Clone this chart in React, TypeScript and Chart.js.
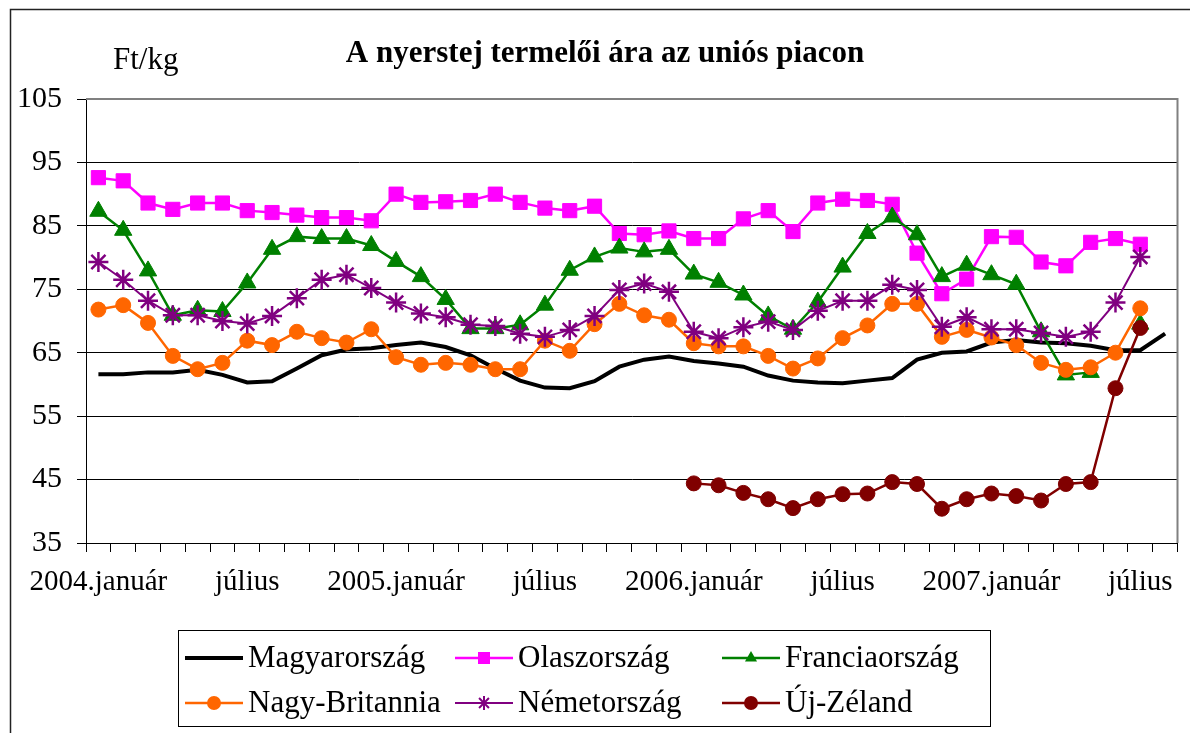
import React, { useEffect, useRef } from 'react';
import { Chart, registerables } from 'chart.js';

Chart.register(...registerables);

const FONT = "'Liberation Serif', 'Times New Roman', serif";

const categories: string[] = [
  '2004.január', 'február', 'március', 'április', 'május', 'június', 'július', 'augusztus', 'szeptember', 'október', 'november', 'december',
  '2005.január', 'február', 'március', 'április', 'május', 'június', 'július', 'augusztus', 'szeptember', 'október', 'november', 'december',
  '2006.január', 'február', 'március', 'április', 'május', 'június', 'július', 'augusztus', 'szeptember', 'október', 'november', 'december',
  '2007.január', 'február', 'március', 'április', 'május', 'június', 'július', 'augusztus',
];

const magyarorszag = [61.6, 61.6, 61.9, 61.9, 62.3, 61.5, 60.3, 60.5, 62.5, 64.6, 65.5, 65.7, 66.2, 66.6, 65.9, 64.6, 62.5, 60.6, 59.5, 59.4, 60.5, 62.8, 63.9, 64.4, 63.7, 63.3, 62.8, 61.4, 60.6, 60.3, 60.2, 60.6, 61.0, 63.9, 65.0, 65.2, 66.6, 67.0, 66.6, 66.5, 66.1, 65.4, 65.4, 68.0];
const olaszorszag = [92.6, 92.1, 88.6, 87.6, 88.6, 88.6, 87.4, 87.1, 86.7, 86.3, 86.3, 85.8, 90.0, 88.7, 88.8, 89.0, 90.0, 88.7, 87.8, 87.4, 88.1, 83.8, 83.6, 84.2, 83.0, 83.0, 86.1, 87.4, 84.1, 88.6, 89.2, 89.0, 88.4, 80.7, 74.3, 76.6, 83.3, 83.2, 79.3, 78.7, 82.4, 83.0, 82.1, null];
const franciaorszag = [87.3, 84.3, 77.9, 70.9, 71.7, 71.5, 76.0, 81.3, 83.3, 83.0, 83.0, 81.9, 79.4, 77.0, 73.4, 68.8, 68.8, 69.4, 72.5, 78.0, 80.1, 81.5, 80.9, 81.3, 77.4, 76.1, 74.1, 70.8, 68.7, 73.0, 78.5, 83.8, 86.4, 83.6, 77.0, 78.8, 77.3, 75.8, 68.3, 61.5, 61.9, null, 69.5, null];
const nagyBritannia = [71.8, 72.5, 69.7, 64.5, 62.4, 63.4, 66.9, 66.2, 68.3, 67.3, 66.6, 68.7, 64.3, 63.1, 63.4, 63.1, 62.4, 62.4, 66.9, 65.3, 69.5, 72.7, 70.9, 70.2, 66.5, 66.0, 66.0, 64.5, 62.5, 64.1, 67.3, 69.3, 72.7, 72.7, 67.5, 68.6, 67.4, 66.2, 63.4, 62.3, 62.7, 65.0, 72.0, null];
const nemetorszag = [79.3, 76.5, 73.2, 70.9, 70.9, 70.0, 69.6, 70.8, 73.6, 76.5, 77.3, 75.2, 72.9, 71.2, 70.6, 69.4, 69.2, 68.0, 67.5, 68.6, 70.8, 74.9, 75.9, 74.6, 68.3, 67.3, 69.0, 69.9, 68.6, 71.6, 73.2, 73.2, 75.7, 74.9, 69.1, 70.6, 68.7, 68.7, 68.1, 67.5, 68.3, 72.9, 80.1, null];
const ujZeland = [null, null, null, null, null, null, null, null, null, null, null, null, null, null, null, null, null, null, null, null, null, null, null, null, 44.4, 44.1, 42.9, 41.9, 40.5, 41.9, 42.7, 42.8, 44.6, 44.3, 40.4, 41.9, 42.8, 42.4, 41.7, 44.3, 44.6, 59.4, 68.9, null];

const yTicks = { min: 35, max: 105, step: 10 };
const titleText = 'A nyerstej termelői ára az uniós piacon';
const unitText = 'Ft/kg';

function drawMarker(ctx: CanvasRenderingContext2D, style: string, x: number, y: number, r: number, color: string) {
  ctx.save();
  ctx.fillStyle = color;
  ctx.strokeStyle = color;
  ctx.beginPath();
  if (style === 'rect') {
    ctx.rect(x - r, y - r, 2 * r, 2 * r);
    ctx.fill();
  } else if (style === 'triangle') {
    ctx.moveTo(x, y - r);
    ctx.lineTo(x + r * 0.866, y + r * 0.5);
    ctx.lineTo(x - r * 0.866, y + r * 0.5);
    ctx.closePath();
    ctx.fill();
  } else if (style === 'circle') {
    ctx.arc(x, y, r, 0, Math.PI * 2);
    ctx.fill();
  } else if (style === 'star') {
    ctx.lineWidth = 2;
    ctx.moveTo(x, y - r); ctx.lineTo(x, y + r);
    ctx.moveTo(x - r * 0.707, y - r * 0.707); ctx.lineTo(x + r * 0.707, y + r * 0.707);
    ctx.moveTo(x - r * 0.707, y + r * 0.707); ctx.lineTo(x + r * 0.707, y - r * 0.707);
    ctx.moveTo(x - r, y); ctx.lineTo(x + r, y);
    ctx.stroke();
  }
  ctx.restore();
}

const decorPlugin = {
  id: 'decor',
  beforeDatasetsDraw(chart: any) {
    const { ctx, chartArea: a } = chart;
    ctx.save();
    ctx.strokeStyle = '#808080';
    ctx.lineWidth = 2;
    ctx.beginPath();
    ctx.moveTo(a.left, a.top);
    ctx.lineTo(a.right, a.top);
    ctx.lineTo(a.right, a.bottom);
    ctx.stroke();
    ctx.restore();
  },
  afterDraw(chart: any) {
    const { ctx } = chart;
    ctx.save();
    ctx.strokeStyle = '#222';
    ctx.lineWidth = 1.5;
    ctx.beginPath();
    ctx.moveTo(10.5, 740);
    ctx.lineTo(10.5, 9.5);
    ctx.lineTo(1200, 9.5);
    ctx.stroke();
    ctx.fillStyle = '#000';
    ctx.textBaseline = 'alphabetic';
    ctx.textAlign = 'center';
    ctx.font = `bold 31px ${FONT}`;
    ctx.fillText(titleText, 605, 62);
    ctx.textAlign = 'left';
    ctx.font = `31px ${FONT}`;
    ctx.fillText(unitText, 113, 69);
    ctx.strokeStyle = '#000';
    ctx.lineWidth = 1;
    ctx.strokeRect(178.5, 630.5, 812, 96);
    const cols = [185, 455, 722];
    const rows = [658, 703];
    const ds = chart.data.datasets;
    ds.forEach((d: any, i: number) => {
      const cx = cols[i % 3];
      const cy = rows[Math.floor(i / 3)];
      ctx.strokeStyle = d.borderColor;
      ctx.lineWidth = d.borderWidth;
      ctx.beginPath();
      ctx.moveTo(cx, cy);
      ctx.lineTo(cx + 58, cy);
      ctx.stroke();
      if (d.pointRadius > 0) {
        drawMarker(ctx, d.pointStyle, cx + 29, cy, d.pointStyle === 'rect' ? 6 : 7, d.borderColor);
      }
      ctx.fillStyle = '#000';
      ctx.textBaseline = 'middle';
      ctx.textAlign = 'left';
      ctx.font = `31px ${FONT}`;
      ctx.fillText(d.label, cx + 63, cy + 1);
    });
    ctx.restore();
  },
};

export default function App() {
  const ref = useRef<HTMLCanvasElement>(null);
  useEffect(() => {
    if (!ref.current) return;
    const chart = new Chart(ref.current, {
      type: 'line',
      data: {
        labels: categories,
        datasets: [
          { label: 'Magyarország', data: magyarorszag, borderColor: '#000000', backgroundColor: '#000000', borderWidth: 4, pointRadius: 0, order: 6 },
          { label: 'Olaszország', data: olaszorszag, borderColor: '#FF00FF', backgroundColor: '#FF00FF', borderWidth: 2.5, pointStyle: 'rect', pointRadius: 10, pointBorderWidth: 1, order: 5 },
          { label: 'Franciaország', data: franciaorszag, borderColor: '#008000', backgroundColor: '#008000', borderWidth: 2.5, pointStyle: 'triangle', pointRadius: 10, pointBorderWidth: 1, order: 4 },
          { label: 'Nagy-Britannia', data: nagyBritannia, borderColor: '#FF6600', backgroundColor: '#FF6600', borderWidth: 2.5, pointStyle: 'circle', pointRadius: 7.5, pointBorderWidth: 1, order: 3 },
          { label: 'Németország', data: nemetorszag, borderColor: '#800080', backgroundColor: '#800080', borderWidth: 2, pointStyle: 'star', pointRadius: 10, pointBorderWidth: 2.5, order: 2 },
          { label: 'Új-Zéland', data: ujZeland, borderColor: '#800000', backgroundColor: '#800000', borderWidth: 2.5, pointStyle: 'circle', pointRadius: 7.5, pointBorderWidth: 1, order: 1 },
        ] as any,
      },
      options: {
        animation: false,
        responsive: false,
        devicePixelRatio: 1,
        spanGaps: false,
        layout: { padding: { top: 99, left: 0, right: 5, bottom: 130 } },
        plugins: { legend: { display: false }, title: { display: false }, tooltip: { enabled: false } },
        scales: {
          x: {
            type: 'category',
            offset: true,
            grid: { display: true, offset: true, drawOnChartArea: false, drawTicks: true, tickLength: 9, color: '#000', tickColor: '#000', lineWidth: 1 },
            border: { display: true, color: '#000', width: 1 },
            ticks: {
              autoSkip: false, maxRotation: 0, minRotation: 0, padding: 13, color: '#000',
              font: { family: FONT, size: 29 },
              callback: (_v: any, i: number) => (i % 6 === 0 ? categories[i] : ''),
            },
            afterFit: (s: any) => { s.height = 60; },
          },
          y: {
            min: yTicks.min,
            max: yTicks.max,
            ticks: { stepSize: yTicks.step, padding: 15, color: '#000', font: { family: FONT, size: 30 } },
            grid: {
              color: (c: any) => (c.tick && c.tick.value === yTicks.max ? 'rgba(0,0,0,0)' : '#000'),
              tickColor: '#000', tickLength: 9, lineWidth: 1,
            },
            border: { display: true, color: '#000', width: 1 },
            afterFit: (s: any) => { s.width = 86; },
          },
        },
      } as any,
      plugins: [decorPlugin],
    });
    return () => chart.destroy();
  }, []);
  return (
    <div style={{ position: 'fixed', left: 0, top: 0, width: 1190, height: 733, background: '#fff' }}>
      <canvas ref={ref} width={1190} height={733} style={{ display: 'block', width: 1190, height: 733 }} />
    </div>
  );
}
